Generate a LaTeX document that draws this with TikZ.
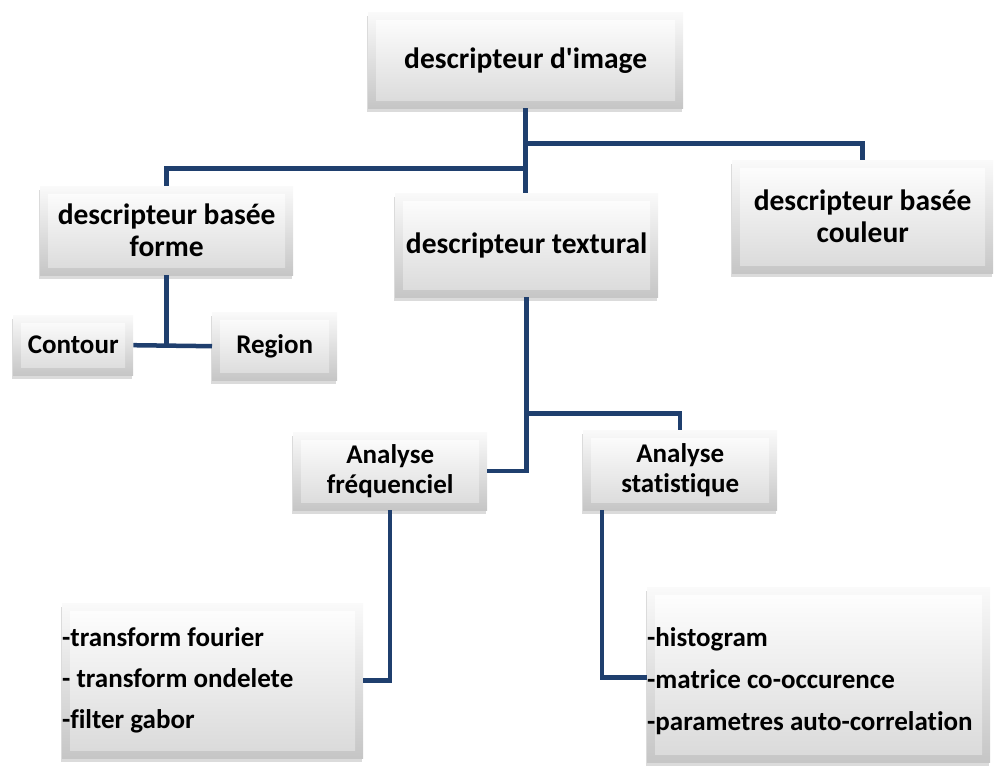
\documentclass[tikz,border=0pt]{standalone}
\usepackage{fontspec}
\setmainfont[Ligatures=NoCommon]{Carlito}
\usetikzlibrary{shadows,calc}
\definecolor{linkblue}{HTML}{1F3F6E}
\newcommand{\straightquote}{\XeTeXglyph\XeTeXcharglyph39\relax}
\tikzset{
  bevel/.style 2 args={rectangle, anchor=north west, inner sep=0pt, align=flush center,
    font=\bfseries\fontsize{#1}{#2}\selectfont,
    top color=gray!4, bottom color=gray!45,
    drop shadow={shadow xshift=-1.5pt, shadow yshift=-3.5pt, opacity=0.35, fill=gray!80},
    path picture={
      \path[top color=white, bottom color=gray!30]
        ($(path picture bounding box.north west)+(8pt,-8pt)$) rectangle
        ($(path picture bounding box.south east)+(-8pt,8pt)$);
    }},
  link/.style={draw=linkblue, line width=4.5pt},
}
\begin{document}
\begin{tikzpicture}[x=1pt,y=-1pt]
\useasboundingbox (0,0) rectangle (996,774);
\node[bevel={29.5}{32}, minimum width=315pt, minimum height=96pt] (top) at (368,12) {descripteur d\straightquote image};
\node[bevel={29.5}{32}, minimum width=253pt, minimum height=89pt] (forme) at (40,186) {descripteur basée\\forme};
\node[bevel={29.5}{32}, minimum width=263pt, minimum height=104pt] (textural) at (395,193) {descripteur textural};
\node[bevel={29.5}{32}, minimum width=261pt, minimum height=113pt] (couleur) at (732,160) {descripteur basée\\couleur};
\node[bevel={27}{30}, minimum width=120pt, minimum height=60pt] (contour) at (13,315) {Contour};
\node[bevel={27}{30}, minimum width=125pt, minimum height=68pt] (region) at (212,312) {Region};
\node[bevel={27}{30}, minimum width=194pt, minimum height=78pt] (freq) at (293,432) {Analyse\\fréquenciel};
\node[bevel={27}{30}, minimum width=194pt, minimum height=80pt] (stat) at (583,430) {Analyse\\statistique};
\node[bevel={27}{41}, minimum width=301pt, minimum height=155pt, text width=301pt, align=flush left] (bl) at (62,603) {-transform fourier\\- transform ondelete\\-filter gabor};
\node[bevel={27}{42}, minimum width=343pt, minimum height=175pt, text width=343pt, align=flush left] (br) at (647,587) {\rule{0pt}{32pt}-histogram\\-matrice co-occurence\\-parametres auto-correlation};
\coordinate (j1) at ($(top.south)+(0,35)$);
\coordinate (j2) at ($(top.south)+(0,60)$);
\draw[link] (top.south) -- (top.south |- textural.north);
\draw[link] (j1) -| (couleur.north);
\draw[link] (j2) -| (forme.north);
\draw[link] (forme.south) -- (forme.south |- contour.east);
\draw[link] (contour.east) -- (region.west);
\coordinate (j3) at ($(textural.south)+(0,116)$);
\draw[link] (textural.south) -- (j3) -| (stat.north);
\draw[link] (j3) |- (freq.east);
\draw[link] (freq.south) |- (bl.east);
\draw[link] ($(stat.south west)+(19,0)$) |- ($(br.west)+(0,3)$);
\end{tikzpicture}
\end{document}
